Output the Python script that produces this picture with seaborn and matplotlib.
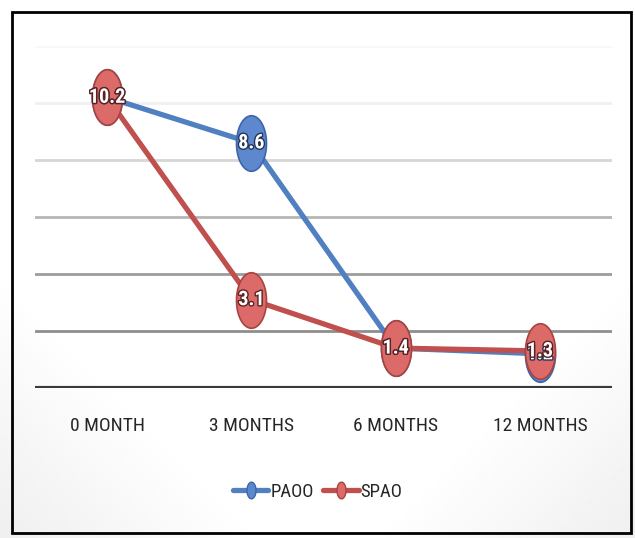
import numpy as np
import pandas as pd
import matplotlib
matplotlib.use("Agg")
import matplotlib.pyplot as plt
import matplotlib.patheffects as pe
from matplotlib import font_manager
from matplotlib.path import Path
from matplotlib.lines import Line2D
import seaborn as sns

# Data
timepoints = ["0 MONTH", "3 MONTHS", "6 MONTHS", "12 MONTHS"]
paoo = [10.2, 8.6, 1.4, 1.2]
spao = [10.2, 3.1, 1.4, 1.3]

sns.set_theme(style="white")

# prefer a narrow face for all text
available = {f.name for f in font_manager.fontManager.ttflist}
narrow = [n for n in ["Liberation Sans Narrow", "Roboto Condensed", "Open Sans Condensed",
                      "DejaVu Sans Condensed"] if n in available]
plt.rcParams["font.family"] = narrow + ["DejaVu Sans"]
plt.rcParams["font.stretch"] = "condensed"

df = pd.concat([
    pd.DataFrame({"pos": range(len(timepoints)), "value": paoo, "group": "PAOO"}),
    pd.DataFrame({"pos": range(len(timepoints)), "value": spao, "group": "SPAO"}),
])

styles = {
    "PAOO": dict(line="#5080c2", fill="#5d88cd", edge="#3d66a8", stroke="#22345a"),
    "SPAO": dict(line="#c0504d", fill="#dc6a68", edge="#a84340", stroke="#5a2222"),
}

# tall narrow ellipse used as the point marker
t = np.linspace(0, 2 * np.pi, 60)
ellipse = Path(np.column_stack([0.54 * np.cos(t), np.sin(t)]), closed=True)

fig = plt.figure(figsize=(6.35, 5.38), dpi=100)
fig.patch.set_facecolor("white")

# faint grey shading towards the lower corners of the canvas
bg = fig.add_axes([0, 0, 1, 1], zorder=-10)
yy, xx = np.mgrid[0:1:200j, 0:1:200j]
shade = np.clip((1 - yy) * 0.5 + np.abs(xx - 0.5) * 0.6 - 0.55, 0, 1) * 0.25
bg.imshow(1 - shade, cmap="gray", vmin=0, vmax=1, aspect="auto",
          extent=[0, 1, 0, 1], origin="lower")
bg.axis("off")

ax = fig.add_axes([35 / 635, 1 - 388 / 538, (612 - 35) / 635, (388 - 46) / 538])
ax.set_facecolor("none")
ax.set_ylim(0, 12)
ax.set_xlim(-0.5, len(timepoints) - 0.5)

# horizontal gridlines, fading towards the top
grid_cols = {2: "#8e8e8e", 4: "#9c9c9c", 6: "#b6b6b6", 8: "#d6d6d6", 10: "#f0f0f0", 12: "#f8f8f8"}
for yv, c in grid_cols.items():
    ax.axhline(yv, color=c, lw=2.0, zorder=0)
ax.axhline(0, color="#3a3a3a", lw=3.0, zorder=1)

for name in ["PAOO", "SPAO"]:
    st = styles[name]
    sub = df[df["group"] == name]
    sns.lineplot(data=sub, x="pos", y="value", ax=ax, color=st["line"], lw=3.8,
                 marker=ellipse, markersize=40, markerfacecolor=st["fill"],
                 markeredgecolor=st["edge"], markeredgewidth=1.2, legend=False,
                 zorder=3)
    for x, v in zip(sub["pos"], sub["value"]):
        ax.text(x, v, f"{v:g}", ha="center", va="center", color="white",
                fontsize=14.5, fontweight="bold", zorder=5,
                path_effects=[pe.withStroke(linewidth=2.0, foreground=st["stroke"])])

ax.set_xticks(range(len(timepoints)))
ax.set_xticklabels(timepoints, fontsize=14, color="#262626")
ax.tick_params(axis="x", length=0, pad=21)
ax.set_yticks([])
ax.set_xlabel("")
ax.set_ylabel("")
for s in ax.spines.values():
    s.set_visible(False)

handles = [
    Line2D([], [], color=styles[n]["line"], lw=3.8, marker=ellipse, markersize=12,
           markerfacecolor=styles[n]["fill"], markeredgecolor=styles[n]["edge"])
    for n in ["PAOO", "SPAO"]
]
fig.legend(handles, ["PAOO", "SPAO"], loc="center", bbox_to_anchor=(0.5, 1 - 492 / 538),
           ncol=2, frameon=False, fontsize=13.5, handlelength=1.9, handletextpad=0.1,
           columnspacing=0.5, labelcolor="#262626")

# outer frame
fig.patches.append(plt.Rectangle((12 / 635, 1 - 533 / 538), (631 - 12) / 635, (533 - 12) / 538,
                                 transform=fig.transFigure, fill=False, ec="black", lw=2.0))

fig.savefig("out.png", dpi=100)
